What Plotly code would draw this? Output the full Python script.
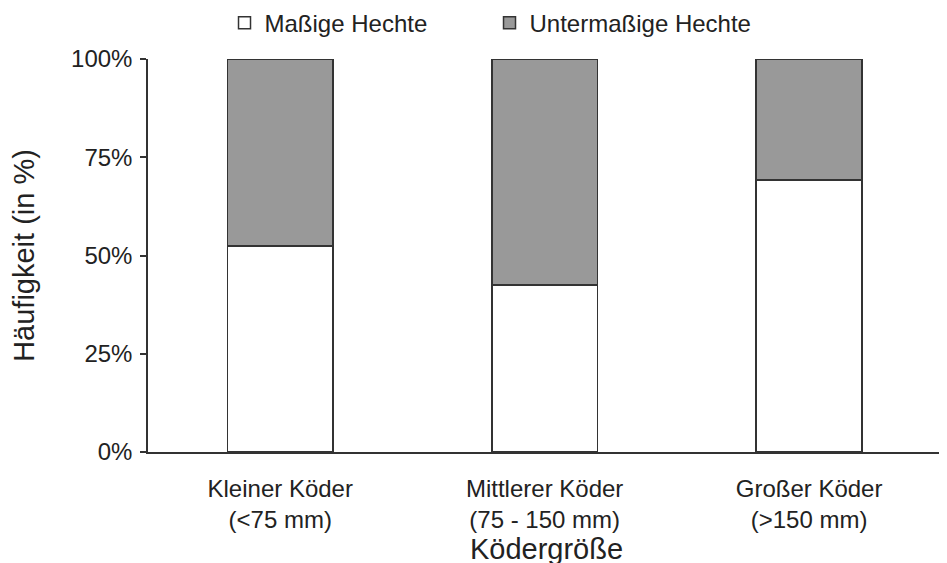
import plotly.graph_objects as go

categories = ["Kleiner Köder<br>(<75 mm)", "Mittlerer Köder<br>(75 - 150 mm)", "Großer Köder<br>(>150 mm)"]
massige = [0.524, 0.425, 0.692]
untermassige = [1 - v for v in massige]
y_ticks = [0, 0.25, 0.5, 0.75, 1.0]
y_labels = ["0%", "25%", "50%", "75%", "100%"]

FONT = "Liberation Sans, Arial, sans-serif"
fig = go.Figure()
fig.add_trace(go.Bar(x=[0, 1, 2], y=massige, name="Maßige Hechte", width=0.4,
                     marker=dict(color="white", line=dict(color="#333333", width=1.5))))
fig.add_trace(go.Bar(x=[0, 1, 2], y=untermassige, name="Untermaßige Hechte", width=0.4,
                     marker=dict(color="#999999", line=dict(color="#333333", width=1.5))))

fig.update_layout(
    barmode="stack",
    width=947, height=563,
    margin=dict(l=140, r=10, t=51, b=119, autoexpand=False),
    paper_bgcolor="white", plot_bgcolor="white",
    font=dict(family=FONT, size=24, color="#222222"),
    showlegend=True,
    legend=dict(orientation="h", x=0.096, xanchor="left", y=0.973, yanchor="middle",
                yref="container", entrywidth=220, entrywidthmode="pixels",
                font=dict(size=24), traceorder="normal", itemclick=False),
    xaxis=dict(range=[-0.5, 2.514], tickmode="array", tickvals=[0, 1, 2], ticktext=categories,
               showline=True, linecolor="#333333", linewidth=1.5, ticks="", showgrid=False,
               zeroline=False, ticklabelstandoff=14, automargin=False,
               title=dict(text="Ködergröße", standoff=1)),
    yaxis=dict(range=[0, 1], tickmode="array", tickvals=y_ticks, ticktext=y_labels,
               showline=True, linecolor="#333333", linewidth=1.5, ticks="outside", ticklen=6,
               tickcolor="#333333", tickwidth=1.5, showgrid=False, zeroline=False,
               ticklabelstandoff=3, automargin=False,
               title=dict(text="Häufigkeit (in %)", standoff=44)),
)
fig.write_html("out.html")
